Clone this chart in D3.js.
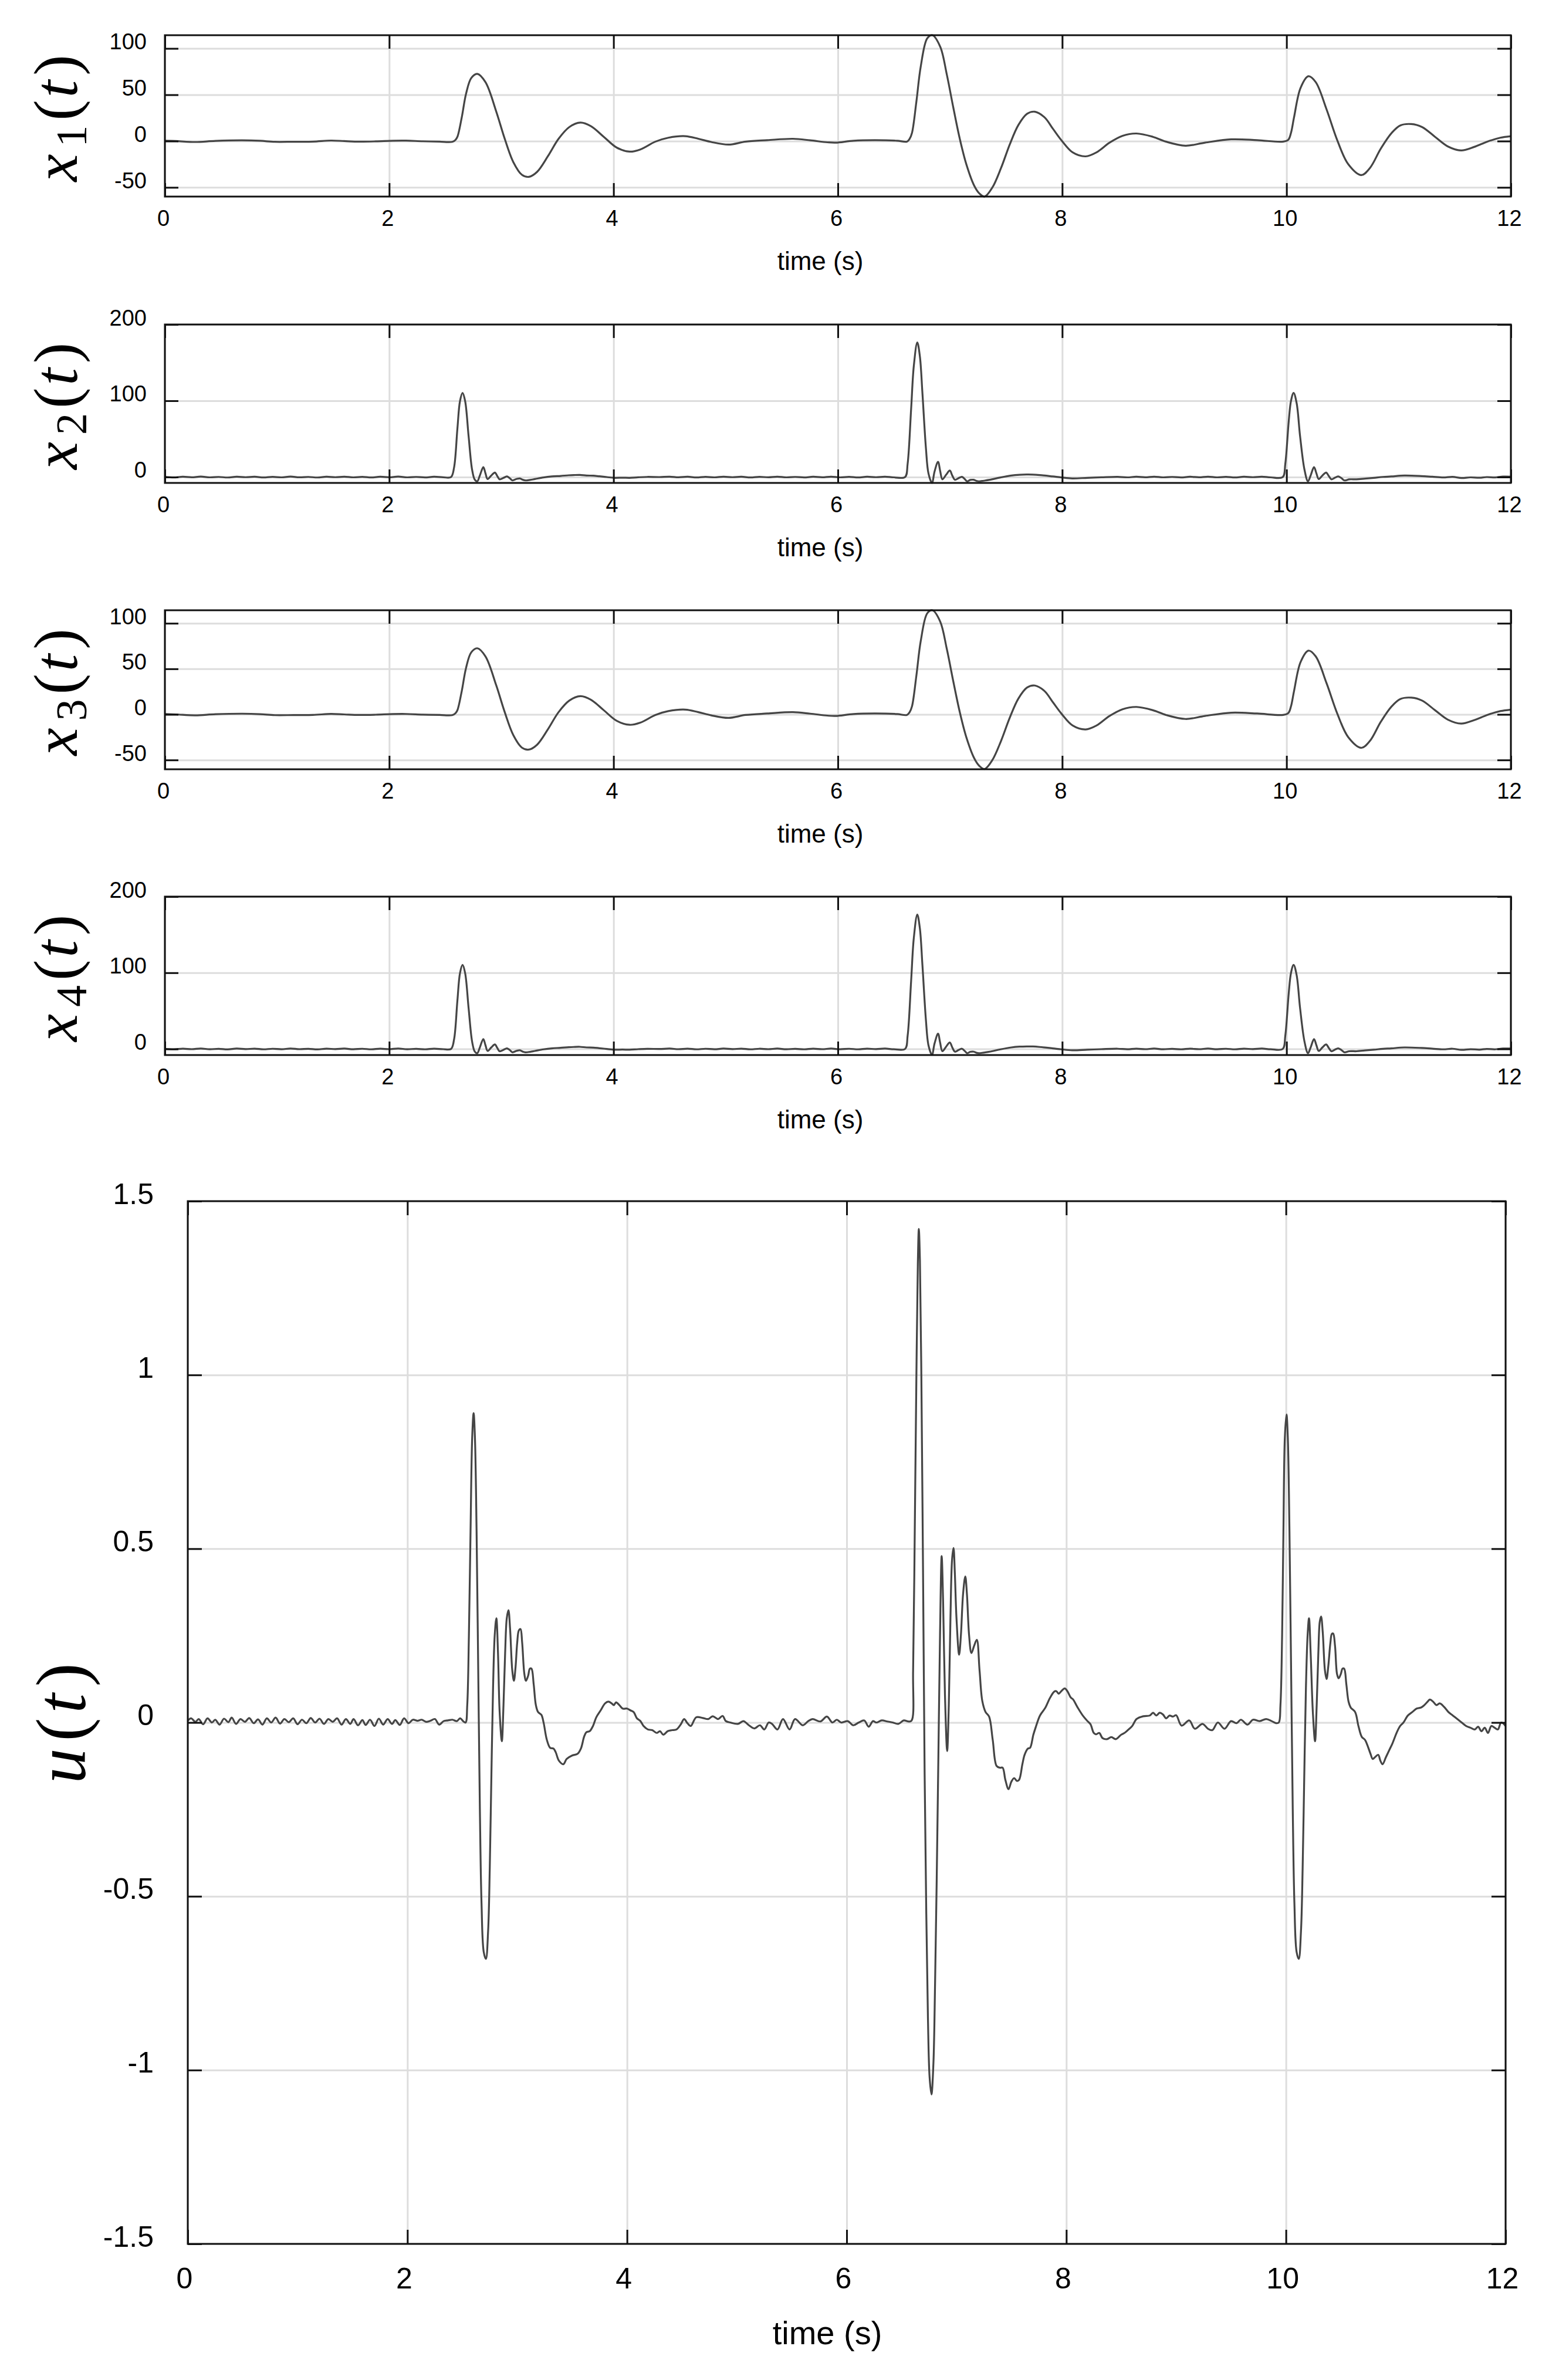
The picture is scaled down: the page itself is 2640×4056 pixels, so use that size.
<!DOCTYPE html>
<html><head><meta charset="utf-8">
<script src="https://cdn.jsdelivr.net/npm/d3@7"></script>
<style>html,body{margin:0;padding:0;background:#fff;}svg{display:block;}</style>
</head><body>
<svg id="chart" width="2640" height="4056"></svg>
<script>
// ---------------- DATA ----------------
const timeTicks = [0, 2, 4, 6, 8, 10, 12];
const xPosTicks = [-50, 0, 50, 100];     // x1(t), x3(t)
const xVelTicks = [0, 100, 200];         // x2(t), x4(t)
const uTicks = [-1.5, -1, -0.5, 0, 0.5, 1, 1.5];
const uTickLabels = ["-1.5", "-1", "-0.5", "0", "0.5", "1", "1.5"];

// x1(t): [time (s), value]
const x1Data = [
 [0,0.4],[0.1,0.0],[0.27,-1.0],[0.45,0.2],[0.69,0.8],[0.85,0.3],[0.98,-0.8],[1.15,-0.7],[1.32,-0.6],[1.48,0.6],[1.6,0.0],[1.73,-0.6],[1.88,-0.3],[2.03,0.4],[2.15,0.5],[2.3,-0.2],[2.45,-0.6],[2.562,-0.8],
 [2.59,1.2],[2.608,4.6],[2.647,25.7],[2.685,51],[2.731,68],[2.785,72.6],[2.858,63.7],[2.954,32],[3.03,2.5],[3.107,-22.8],[3.184,-36.5],[3.245,-38.6],[3.318,-33.3],[3.414,-16.5],[3.51,2.5],[3.606,15.2],[3.705,20],[3.797,16.2],[3.913,4.6],[4.028,-7],[4.143,-11.4],[4.239,-9],[4.373,-0.6],[4.488,3.6],[4.641,5.3],[4.756,2.5],[4.871,-1],[5.025,-3.8],[5.178,-0.6],[5.37,1],[5.6,2.5],[5.754,0.8],[5.907,-1.3],[5.98,-1.7],[6.14,0.4],[6.33,1],[6.53,0.4],[6.615,-0.6],
 [6.64,2.5],[6.661,8.9],[6.7,42.6],[6.739,80.6],[6.797,111],[6.843,114.3],[6.913,101.7],[6.971,72],[7.029,36.3],[7.087,2.5],[7.145,-24.9],[7.215,-48],[7.261,-56.5],[7.308,-59.9],[7.377,-50.2],[7.455,-29],[7.532,-3.8],[7.609,17.3],[7.687,29.5],[7.756,31.7],[7.842,25.7],[7.919,13],[7.996,0.4],[8.093,-12.2],[8.209,-16.5],[8.306,-12.2],[8.422,-1.7],[8.538,5.7],[8.662,8.2],[8.809,4.6],[8.925,-0.6],[9.099,-5],[9.273,-1.7],[9.506,1.9],[9.738,1],[9.97,-0.6],
 [10.016,1.5],[10.04,9],[10.067,25.7],[10.125,57.4],[10.195,70],[10.26,63.7],[10.357,34.2],[10.454,0.4],[10.55,-24.9],[10.667,-36.7],[10.744,-29],[10.841,-8],[10.938,8.9],[11.015,16.9],[11.112,18.4],[11.208,15.2],[11.324,4.6],[11.44,-5.9],[11.557,-10.1],[11.673,-6.3],[11.789,-0.6],[11.905,3.6],[12,5.3]
];

// x2(t)
const x2Data = [
 [0,0.3],[0.08,-0.5],[0.16,0.4],[0.24,-0.3],[0.32,0.6],[0.4,-0.4],[0.48,0.2],[0.56,-0.6],[0.64,0.5],[0.72,-0.2],[0.8,0.4],[0.88,-0.5],[0.96,0.3],[1.04,-0.4],[1.12,0.6],[1.2,-0.3],[1.28,0.2],[1.36,-0.6],[1.44,0.4],[1.52,-0.2],[1.6,0.5],[1.68,-0.4],[1.76,0.3],[1.84,-0.5],[1.92,0.4],[2.0,-0.3],[2.08,0.6],[2.16,-0.4],[2.24,0.2],[2.32,-0.5],[2.4,0.4],[2.48,-0.3],[2.551,0.0],
 [2.578,12.3],[2.608,63.6],[2.631,99.5],[2.654,110.3],[2.677,99.5],[2.708,53.3],[2.739,9.7],[2.763,-3.5],[2.785,-5.6],[2.808,2],[2.839,13],[2.858,5],[2.877,-2.6],[2.91,2],[2.942,5.9],[2.963,1.5],[2.984,-3],[3.02,-1.0],[3.05,0.8],[3.075,-1.5],[3.099,-4.4],[3.135,-2.5],[3.165,-1.8],[3.19,-3.5],[3.214,-4.4],[3.255,-3.8],[3.299,-2.6],[3.376,-0.5],[3.45,0.8],[3.529,1.5],[3.6,2.3],[3.644,2.6],[3.7,2.8],[3.759,2],[3.82,1.8],[3.874,1],[3.94,0],[4.008,-1],[4.08,-0.8],[4.143,-1],[4.22,-0.3],[4.3,0.2],[4.411,0],
 [4.5,0.5],[4.58,-0.3],[4.66,0.4],[4.74,-0.5],[4.82,0.3],[4.9,-0.4],[4.98,0.5],[5.06,-0.2],[5.14,0.4],[5.22,-0.5],[5.3,0.3],[5.38,-0.3],[5.46,0.5],[5.54,-0.4],[5.62,0.2],[5.7,-0.5],[5.78,0.4],[5.86,-0.3],[5.94,0.5],[6.02,-0.4],[6.1,0.3],[6.18,-0.5],[6.26,0.4],[6.34,-0.2],[6.42,0.5],[6.5,-0.4],[6.599,0],
 [6.622,17.4],[6.653,89],[6.677,145.6],[6.708,176.4],[6.731,158.5],[6.754,109.7],[6.785,38],[6.808,4.6],[6.839,-7.7],[6.862,7.2],[6.893,20],[6.912,8],[6.932,-3],[6.965,3],[6.998,8.5],[7.02,2],[7.044,-3.6],[7.075,-1.5],[7.106,0.3],[7.13,-2.5],[7.153,-5.6],[7.18,-3.8],[7.211,-3.6],[7.235,-5],[7.257,-5.6],[7.3,-4.8],[7.354,-3.6],[7.451,-0.5],[7.547,2],[7.62,3],[7.683,3.3],[7.74,3.2],[7.799,2.6],[7.915,0.8],[7.992,-0.5],[8.089,-1.8],[8.225,-1],[8.35,-0.3],[8.495,0.3],
 [8.58,-0.4],[8.66,0.4],[8.74,-0.3],[8.82,0.5],[8.9,-0.4],[8.98,0.2],[9.06,-0.5],[9.14,0.4],[9.22,-0.3],[9.3,0.5],[9.38,-0.4],[9.46,0.3],[9.54,-0.5],[9.62,0.4],[9.7,-0.2],[9.78,0.5],[9.86,-0.4],[9.966,0],
 [9.989,17.4],[10.02,73.8],[10.04,100],[10.063,110.3],[10.09,97],[10.121,53.3],[10.16,9.7],[10.191,-5.6],[10.215,2],[10.245,13],[10.266,5],[10.287,-2.6],[10.32,2],[10.353,5.9],[10.376,1.5],[10.4,-3],[10.43,-1],[10.461,0.8],[10.49,-1.5],[10.516,-4.4],[10.56,-3],[10.624,-3],[10.7,-2],[10.779,-1],[10.86,0.2],[10.934,0.8],[11.05,2],[11.204,1.3],[11.3,0.4],[11.398,-0.5],
 [11.48,0.3],[11.56,-1.2],[11.64,-0.4],[11.72,-0.9],[11.785,0],[11.86,-0.5],[11.93,0.6],[12,0.5]
];

// x3(t) and x4(t) are drawn identical to x1(t) and x2(t) in the reference
const x3Data = x1Data;
const x4Data = x2Data;

// u(t)
const uData = [
 [0,0.005],[0.03,0.012],[0.07,0.002],[0.1,0.01],[0.14,-0.005],[0.18,0.012],[0.22,0.0],[0.25,0.008],[0.29,-0.006],[0.33,0.011],[0.37,0.001],[0.4,0.014],[0.44,-0.004],[0.48,0.01],[0.52,0.002],[0.56,0.013],[0.6,-0.002],[0.64,0.009],[0.68,-0.006],[0.72,0.012],[0.76,0.0],[0.8,0.014],[0.84,-0.003],[0.88,0.01],[0.92,0.001],[0.96,0.012],[1.0,-0.005],[1.04,0.008],[1.08,-0.002],[1.12,0.013],[1.16,0.0],[1.2,0.011],[1.24,-0.004],[1.28,0.01],[1.32,0.002],[1.36,0.012],[1.4,-0.006],[1.44,0.01],[1.48,-0.004],[1.51,0.01],[1.55,-0.008],[1.59,0.007],[1.62,-0.007],[1.66,0.008],[1.7,-0.01],[1.74,0.011],[1.78,-0.006],[1.82,0.01],[1.86,-0.004],[1.89,0.007],[1.93,-0.007],[1.97,0.012],[2.01,-0.002],[2.05,0.008],[2.09,0.005],[2.13,0.008],[2.17,0.002],[2.21,0.005],[2.25,0.01],[2.29,-0.006],[2.33,0.004],[2.37,0.006],[2.41,0.008],[2.45,0.004],[2.48,0.012],[2.51,0.003],
 [2.53,0.0],[2.545,0.05],[2.56,0.25],[2.575,0.55],[2.59,0.82],[2.603,0.89],[2.615,0.82],[2.63,0.55],[2.645,0.15],[2.66,-0.25],[2.675,-0.52],[2.695,-0.66],[2.715,-0.68],[2.735,-0.6],[2.75,-0.42],[2.765,-0.15],[2.78,0.1],[2.795,0.25],[2.81,0.3],[2.825,0.2],[2.84,0.03],[2.86,-0.054],[2.875,0.05],[2.89,0.2],[2.905,0.3],[2.92,0.323],[2.935,0.27],[2.955,0.15],[2.97,0.12],[2.985,0.16],[3.0,0.23],[3.015,0.265],[3.03,0.269],[3.045,0.23],[3.065,0.14],[3.08,0.12],[3.1,0.135],[3.115,0.155],[3.13,0.155],[3.15,0.11],[3.17,0.05],[3.19,0.03],[3.22,0.022],[3.24,0.0],[3.27,-0.05],[3.3,-0.073],[3.33,-0.075],[3.35,-0.085],[3.38,-0.11],[3.42,-0.12],[3.45,-0.105],[3.5,-0.095],[3.55,-0.09],[3.58,-0.075],[3.61,-0.04],[3.63,-0.028],[3.66,-0.025],[3.69,-0.01],[3.72,0.015],[3.76,0.035],[3.8,0.055],[3.83,0.06],[3.86,0.055],[3.88,0.05],[3.9,0.058],[3.93,0.05],[3.96,0.04],[4.0,0.04],[4.03,0.035],[4.06,0.03],[4.09,0.012],[4.12,0.005],[4.15,-0.01],[4.19,-0.02],[4.23,-0.022],[4.27,-0.03],[4.3,-0.025],[4.33,-0.035],[4.37,-0.025],[4.41,-0.022],[4.45,-0.02],[4.49,-0.005],[4.52,0.01],[4.55,-0.002],[4.58,-0.01],[4.63,0.015],[4.69,0.013],[4.74,0.01],[4.78,0.018],[4.83,0.01],[4.87,0.019],[4.9,0.004],[4.94,0.0],
 [5.01,-0.004],[5.06,0.004],[5.11,-0.008],[5.16,-0.017],[5.21,-0.008],[5.25,-0.02],[5.29,0.0],[5.32,-0.004],[5.37,-0.02],[5.42,0.01],[5.48,-0.02],[5.53,0.01],[5.6,-0.008],[5.65,0.004],[5.69,0.01],[5.76,0.003],[5.82,0.017],[5.87,0.0],[5.91,0.008],[5.95,0.0],[6.01,0.004],[6.06,-0.008],[6.11,0.0],[6.16,0.006],[6.2,-0.012],[6.24,0.004],[6.27,0.0],[6.32,0.006],[6.37,0.003],[6.42,0.0],[6.47,-0.004],[6.52,0.006],[6.56,0.003],[6.59,0.005],
 [6.605,0.15],[6.62,0.55],[6.635,1.0],[6.648,1.32],[6.657,1.42],[6.667,1.33],[6.68,1.0],[6.695,0.45],[6.71,-0.15],[6.725,-0.55],[6.74,-0.85],[6.755,-1.02],[6.772,-1.07],[6.79,-0.98],[6.805,-0.75],[6.82,-0.45],[6.835,-0.1],[6.85,0.25],[6.865,0.479],[6.878,0.35],[6.895,0.08],[6.915,-0.082],[6.93,0.05],[6.945,0.3],[6.96,0.47],[6.973,0.502],[6.985,0.43],[7.0,0.3],[7.024,0.195],[7.04,0.25],[7.06,0.37],[7.08,0.42],[7.095,0.37],[7.115,0.25],[7.136,0.2],[7.16,0.22],[7.185,0.238],[7.21,0.15],[7.235,0.062],[7.265,0.03],[7.297,0.017],[7.33,-0.05],[7.365,-0.125],[7.395,-0.13],[7.42,-0.13],[7.445,-0.165],[7.474,-0.192],[7.5,-0.17],[7.525,-0.16],[7.55,-0.168],[7.57,-0.165],[7.6,-0.12],[7.62,-0.093],[7.65,-0.075],[7.67,-0.073],[7.7,-0.035],[7.72,-0.015],[7.76,0.02],[7.81,0.043],[7.85,0.07],[7.89,0.089],[7.91,0.09],[7.93,0.083],[7.96,0.092],[7.985,0.098],[8.01,0.09],[8.04,0.072],[8.06,0.067],[8.1,0.045],[8.15,0.02],[8.19,0.005],[8.22,-0.005],[8.25,-0.03],[8.27,-0.034],[8.3,-0.03],[8.33,-0.045],[8.37,-0.048],[8.41,-0.042],[8.45,-0.048],[8.5,-0.035],[8.53,-0.03],[8.56,-0.022],[8.6,-0.01],[8.64,0.01],[8.7,0.018],[8.76,0.02],[8.79,0.028],[8.82,0.02],[8.85,0.028],[8.88,0.023],[8.91,0.012],[8.94,0.02],[8.97,0.017],[9.0,0.021],
 [9.05,-0.009],[9.12,0.006],[9.17,-0.018],[9.24,-0.004],[9.29,-0.018],[9.33,-0.022],[9.38,0.0],[9.44,-0.018],[9.5,0.004],[9.55,-0.002],[9.59,0.008],[9.65,-0.006],[9.7,0.008],[9.76,0.004],[9.82,0.01],[9.87,0.004],[9.91,-0.002],[9.935,0.0],
 [9.95,0.05],[9.965,0.25],[9.977,0.55],[9.99,0.82],[10.005,0.886],[10.017,0.82],[10.032,0.55],[10.047,0.15],[10.062,-0.25],[10.077,-0.52],[10.097,-0.66],[10.117,-0.68],[10.137,-0.6],[10.152,-0.42],[10.167,-0.15],[10.182,0.1],[10.197,0.25],[10.21,0.3],[10.225,0.2],[10.245,0.03],[10.265,-0.054],[10.28,0.05],[10.295,0.2],[10.308,0.29],[10.32,0.305],[10.335,0.26],[10.355,0.15],[10.37,0.125],[10.385,0.16],[10.405,0.23],[10.418,0.255],[10.43,0.256],[10.447,0.22],[10.465,0.14],[10.48,0.127],[10.5,0.14],[10.515,0.155],[10.53,0.155],[10.55,0.11],[10.57,0.06],[10.59,0.043],[10.63,0.03],[10.66,-0.01],[10.69,-0.041],[10.72,-0.05],[10.74,-0.064],[10.77,-0.09],[10.79,-0.105],[10.81,-0.1],[10.84,-0.093],[10.86,-0.11],[10.88,-0.12],[10.91,-0.1],[10.94,-0.08],[10.97,-0.06],[11.01,-0.028],[11.04,-0.01],[11.07,0.0],[11.11,0.02],[11.15,0.03],[11.19,0.04],[11.23,0.043],[11.26,0.05],[11.29,0.06],[11.31,0.066],[11.34,0.06],[11.37,0.05],[11.4,0.055],[11.44,0.045],[11.48,0.03],[11.52,0.02],[11.56,0.01],[11.6,0.0],[11.64,-0.01],[11.68,-0.015],[11.72,-0.02],[11.75,-0.012],[11.78,-0.025],[11.81,-0.015],[11.84,-0.03],[11.87,-0.01],[11.9,-0.015],[11.93,-0.02],[11.96,0.0],[12,-0.01]
];

// ---------------- DRAWING ----------------
const svg = d3.select('#chart');
svg.append('rect').attr('width', 2640).attr('height', 4056).attr('fill', '#fff');

const SANS = "'Liberation Sans', Arial, Helvetica, sans-serif";
const SERIF = "'Liberation Serif', 'Times New Roman', serif";
const LINE_COLOR = '#454545';
const GRID_COLOR = '#dddddd';

const panels = [
 {id:'p1', data:x1Data, sub:'1', L:281, R:2575, T:60, B:335, domain:[-59.9,114.3], ticks:xPosTicks, labels:xPosTicks.map(String), fs:38, xlfs:44, tl:23, small:true},
 {id:'p2', data:x2Data, sub:'2', L:281, R:2575, T:553, B:823, domain:[-7.7,200], ticks:xVelTicks, labels:xVelTicks.map(String), fs:38, xlfs:44, tl:23, small:true},
 {id:'p3', data:x3Data, sub:'3', L:281, R:2575, T:1040, B:1311, domain:[-60.2,114.3], ticks:xPosTicks, labels:xPosTicks.map(String), fs:38, xlfs:44, tl:23, small:true},
 {id:'p4', data:x4Data, sub:'4', L:281, R:2575, T:1528, B:1798, domain:[-8,200], ticks:xVelTicks, labels:xVelTicks.map(String), fs:38, xlfs:44, tl:23, small:true},
 {id:'pu', data:uData, sub:null, L:320, R:2566, T:2047, B:3824, domain:[-1.5,1.5], ticks:uTicks, labels:uTickLabels, fs:50, xlfs:56, tl:24, small:false}
];

function styleAxis(sel) {
  sel.select('.domain').remove();
  sel.selectAll('.tick line').attr('stroke', '#111').attr('stroke-width', 3);
}

panels.forEach(p => {
  const g = svg.append('g').attr('id', p.id);
  const x = d3.scaleLinear().domain([0, 12]).range([p.L, p.R]);
  const y = d3.scaleLinear().domain(p.domain).range([p.B, p.T]);
  const W = p.R - p.L, H = p.B - p.T;

  // grid
  g.append('g').attr('transform', `translate(0,${p.B})`)
    .call(d3.axisBottom(x).tickValues(timeTicks).tickSize(-H).tickFormat(''))
    .call(s => { s.select('.domain').remove(); s.selectAll('line').attr('stroke', GRID_COLOR).attr('stroke-width', 3); });
  g.append('g').attr('transform', `translate(${p.L},0)`)
    .call(d3.axisLeft(y).tickValues(p.ticks).tickSize(-W).tickFormat(''))
    .call(s => { s.select('.domain').remove(); s.selectAll('line').attr('stroke', GRID_COLOR).attr('stroke-width', 3); });

  // data line
  g.append('clipPath').attr('id', 'clip-' + p.id)
    .append('rect').attr('x', p.L).attr('y', p.T - 2).attr('width', W).attr('height', H + 4);
  const line = d3.line().x(d => x(d[0])).y(d => y(d[1])).curve(d3.curveCatmullRom.alpha(0.5));
  g.append('path').datum(p.data).attr('d', line)
    .attr('fill', 'none').attr('stroke', LINE_COLOR).attr('stroke-width', 3.2)
    .attr('stroke-linejoin', 'round').attr('clip-path', `url(#clip-${p.id})`);

  // ticks (inward, all four sides)
  const bottom = g.append('g').attr('transform', `translate(0,${p.B})`)
    .call(d3.axisBottom(x).tickValues(timeTicks).tickSize(-p.tl).tickFormat(d3.format('d')))
    .call(styleAxis);
  bottom.selectAll('.tick text')
    .attr('y', p.small ? 50 : 76).attr('dy', 0).attr('dx', p.small ? -3 : -6)
    .attr('font-family', SANS).attr('font-size', p.fs).attr('fill', '#000');
  g.append('g').attr('transform', `translate(0,${p.T})`)
    .call(d3.axisTop(x).tickValues(timeTicks).tickSize(-p.tl).tickFormat(''))
    .call(styleAxis);
  const left = g.append('g').attr('transform', `translate(${p.L},0)`)
    .call(d3.axisLeft(y).tickValues(p.ticks).tickSize(-p.tl).tickFormat((d, i) => p.labels[i]))
    .call(styleAxis);
  left.selectAll('.tick text')
    .attr('x', p.small ? -31 : -58).attr('dy', p.small ? 1 : 4)
    .attr('font-family', SANS).attr('font-size', p.fs).attr('fill', '#000');
  g.append('g').attr('transform', `translate(${p.R},0)`)
    .call(d3.axisRight(y).tickValues(p.ticks).tickSize(-p.tl).tickFormat(''))
    .call(styleAxis);

  // frame
  g.append('rect').attr('x', p.L).attr('y', p.T).attr('width', W).attr('height', H)
    .attr('fill', 'none').attr('stroke', '#111').attr('stroke-width', 3);

  // x label
  g.append('text').attr('x', p.small ? 1398 : 1410).attr('y', p.small ? p.B + 125 : p.B + 171)
    .attr('text-anchor', 'middle').attr('font-family', SANS).attr('font-size', p.xlfs).attr('fill', '#000')
    .text('time (s)');

  // y label (math style)
  const cy = (p.T + p.B) / 2;
  if (p.small) {
    const t = g.append('text')
      .attr('transform', `translate(131,${cy + 112}) rotate(-90)`)
      .attr('font-family', SERIF).attr('font-size', 106).attr('fill', '#000');
    t.append('tspan').attr('font-style', 'italic').text('x');
    t.append('tspan').attr('font-size', 74).attr('dx', 12).attr('dy', 16).text(p.sub);
    t.append('tspan').attr('dx', 8).attr('dy', -16).text('(');
    t.append('tspan').attr('font-style', 'italic').attr('dx', 4).text('t');
    t.append('tspan').attr('dx', 8).text(')');
  } else {
    const t = g.append('text')
      .attr('transform', `translate(145,${cy + 104}) rotate(-90)`)
      .attr('font-family', SERIF).attr('font-size', 120).attr('fill', '#000');
    t.append('tspan').attr('font-style', 'italic').text('u');
    t.append('tspan').attr('dx', 12).text('(');
    t.append('tspan').attr('font-style', 'italic').attr('dx', 8).text('t');
    t.append('tspan').attr('dx', 12).text(')');
  }
});
</script>
</body></html>
